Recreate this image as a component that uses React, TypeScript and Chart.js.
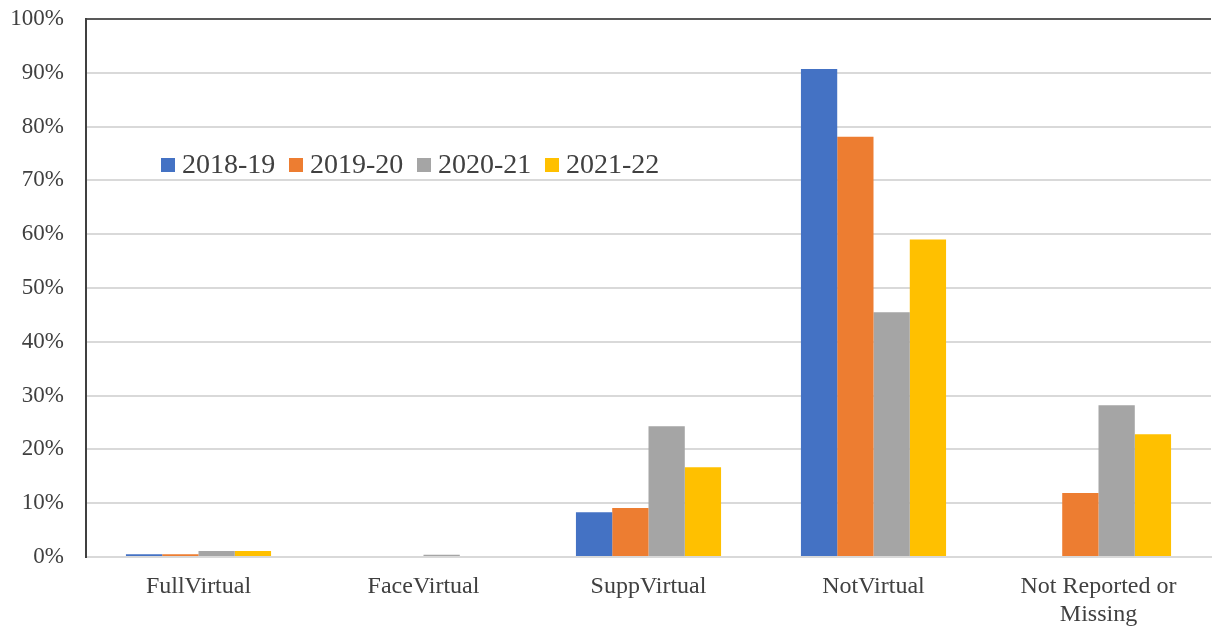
import React, { useEffect, useRef } from "react";
import { Chart, registerables } from "chart.js";

Chart.register(...registerables);

const categories: (string | string[])[] = [
  "FullVirtual",
  "FaceVirtual",
  "SuppVirtual",
  "NotVirtual",
  ["Not Reported or", "Missing"],
];
const seriesNames = ["2018-19", "2019-20", "2020-21", "2021-22"];
const colors = ["#4472C4", "#ED7D31", "#A5A5A5", "#FFC000"];
const v2018 = [0.5, 0.2, 8.3, 90.7, 0];
const v2019 = [0.5, 0.2, 9.1, 78.1, 11.9];
const v2020 = [1.1, 0.4, 24.3, 45.5, 28.2];
const v2021 = [1.1, 0.2, 16.7, 59.0, 22.8];
const yTicks = [0, 10, 20, 30, 40, 50, 60, 70, 80, 90, 100];

const FONT = "'Liberation Serif', 'DejaVu Serif', serif";
const TEXT = "#404040";

const legendPlugin = {
  id: "innerLegend",
  afterDraw(chart: any) {
    const ctx = chart.ctx;
    const startX = 161;
    const cy = 165;
    const step = 128;
    ctx.save();
    ctx.font = `28px ${FONT}`;
    ctx.textBaseline = "middle";
    ctx.textAlign = "left";
    seriesNames.forEach((name, i) => {
      const x = startX + i * step;
      ctx.fillStyle = colors[i];
      ctx.fillRect(x, cy - 7, 14, 14);
      ctx.fillStyle = TEXT;
      ctx.fillText(name, x + 21, cy + 1);
    });
    ctx.restore();
  },
};

export default function App() {
  const ref = useRef<HTMLCanvasElement | null>(null);
  useEffect(() => {
    if (!ref.current) return;
    const series = [v2018, v2019, v2020, v2021];
    const chart = new Chart(ref.current, {
      type: "bar",
      data: {
        labels: categories as any,
        datasets: seriesNames.map((n, i) => ({
          label: n,
          data: series[i],
          backgroundColor: colors[i],
          borderWidth: 0,
          categoryPercentage: 0.645,
          barPercentage: 1,
        })),
      },
      options: {
        animation: false,
        responsive: false,
        maintainAspectRatio: false,
        layout: { padding: { top: 19, right: 1, left: 0, bottom: 0 } },
        plugins: {
          legend: { display: false },
          tooltip: { enabled: false },
        },
        scales: {
          x: {
            grid: { display: false, drawTicks: false },
            border: { display: true, color: "#d9d9d9", width: 2 },
            ticks: {
              font: { family: FONT, size: 24 },
              color: TEXT,
              padding: 15,
              maxRotation: 0,
              autoSkip: false,
            },
            afterFit: (s: any) => {
              s.height = 73;
              s.paddingLeft = 0;
              s.paddingRight = 0;
            },
          },
          y: {
            min: 0,
            max: 100,
            afterBuildTicks: (s: any) => {
              s.ticks = yTicks.map((v) => ({ value: v }));
            },
            grid: {
              drawTicks: false,
              color: (c: any) => (c.tick && c.tick.value === 100 ? "#595959" : "#d9d9d9"),
              lineWidth: 2,
            },
            border: { display: true, color: "#404040", width: 2 },
            ticks: {
              font: { family: FONT, size: 23 },
              color: TEXT,
              padding: 22,
              callback: (v: any) => `${v}%`,
            },
            afterFit: (s: any) => {
              s.width = 86;
              s.paddingTop = 0;
              s.paddingBottom = 0;
            },
          },
        },
      },
      plugins: [legendPlugin],
    });
    return () => chart.destroy();
  }, []);
  return (
    <div style={{ position: "fixed", left: 0, top: 0, width: 1212, height: 630, background: "#fff" }}>
      <canvas ref={ref} width={1212} height={630} style={{ width: 1212, height: 630 }} />
    </div>
  );
}
